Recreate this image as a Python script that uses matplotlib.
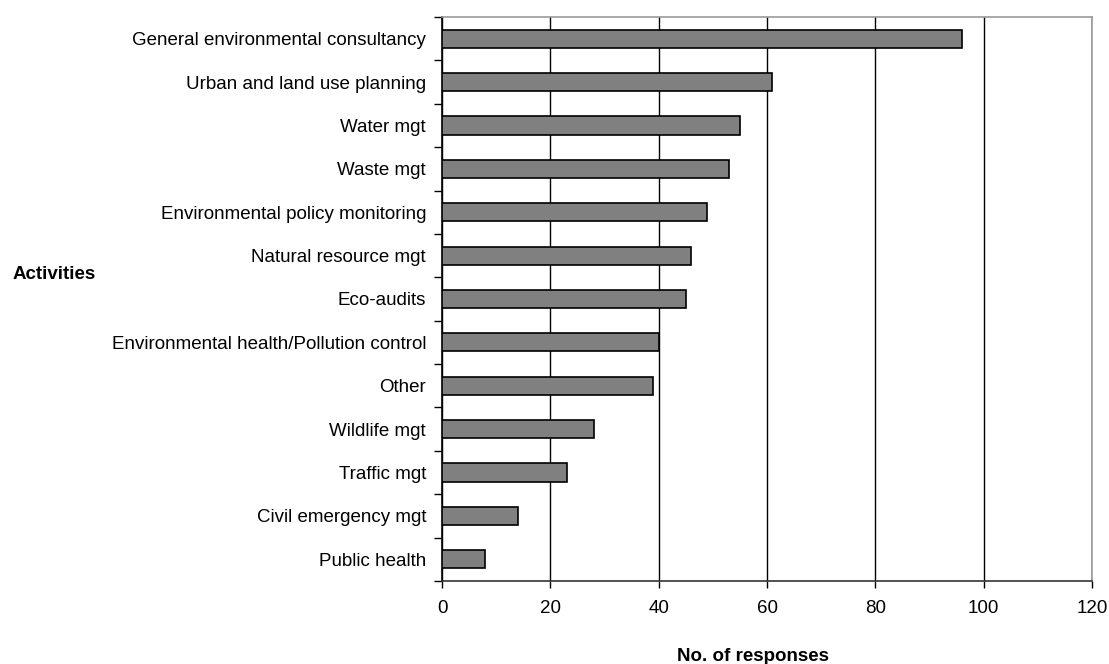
import numpy as np
import matplotlib.pyplot as plt

plt.rcParams["font.family"] = ["Liberation Sans", "DejaVu Sans"]

activities = [
    "General environmental consultancy",
    "Urban and land use planning",
    "Water mgt",
    "Waste mgt",
    "Environmental policy monitoring",
    "Natural resource mgt",
    "Eco-audits",
    "Environmental health/Pollution control",
    "Other",
    "Wildlife mgt",
    "Traffic mgt",
    "Civil emergency mgt",
    "Public health",
]
responses = [96, 61, 55, 53, 49, 46, 45, 40, 39, 28, 23, 14, 8]
x_ticks = [0, 20, 40, 60, 80, 100, 120]

fig = plt.figure(figsize=(11.09, 6.64), dpi=100)
ax = fig.add_axes([0.3986, 0.125, 0.5861, 0.8494])

y = np.arange(len(activities))
ax.barh(y, responses, height=0.42, color="#808080", edgecolor="black",
        linewidth=1.2, zorder=3)

ax.set_xlim(0, 120)
ax.set_ylim(len(activities) - 0.5, -0.5)
ax.set_xticks(x_ticks)
ax.set_xticklabels([str(t) for t in x_ticks], fontsize=13.5)
ax.set_yticks(y)
ax.set_yticklabels(activities, fontsize=13.5)
ax.set_yticks(np.arange(len(activities) + 1) - 0.5, minor=True)

ax.tick_params(axis="y", which="major", length=0, pad=11.5)
ax.tick_params(axis="y", which="minor", length=6, width=1, color="black")
ax.tick_params(axis="x", length=5, width=1, pad=9)

ax.xaxis.grid(True, color="black", linewidth=1, zorder=0)
ax.set_axisbelow(True)

ax.spines["left"].set_color("black")
ax.spines["bottom"].set_color("#333333")
ax.spines["top"].set_color("#999999")
ax.spines["right"].set_color("#999999")
for s in ax.spines.values():
    s.set_linewidth(1.2)

fig.text(0.011, 0.586, "Activities", fontsize=13.5, fontweight="bold",
         va="center", ha="left")
fig.text(0.679, 0.005, "No. of responses", fontsize=13.5, fontweight="bold",
         va="baseline", ha="center")

fig.savefig("out.png", dpi=100)
